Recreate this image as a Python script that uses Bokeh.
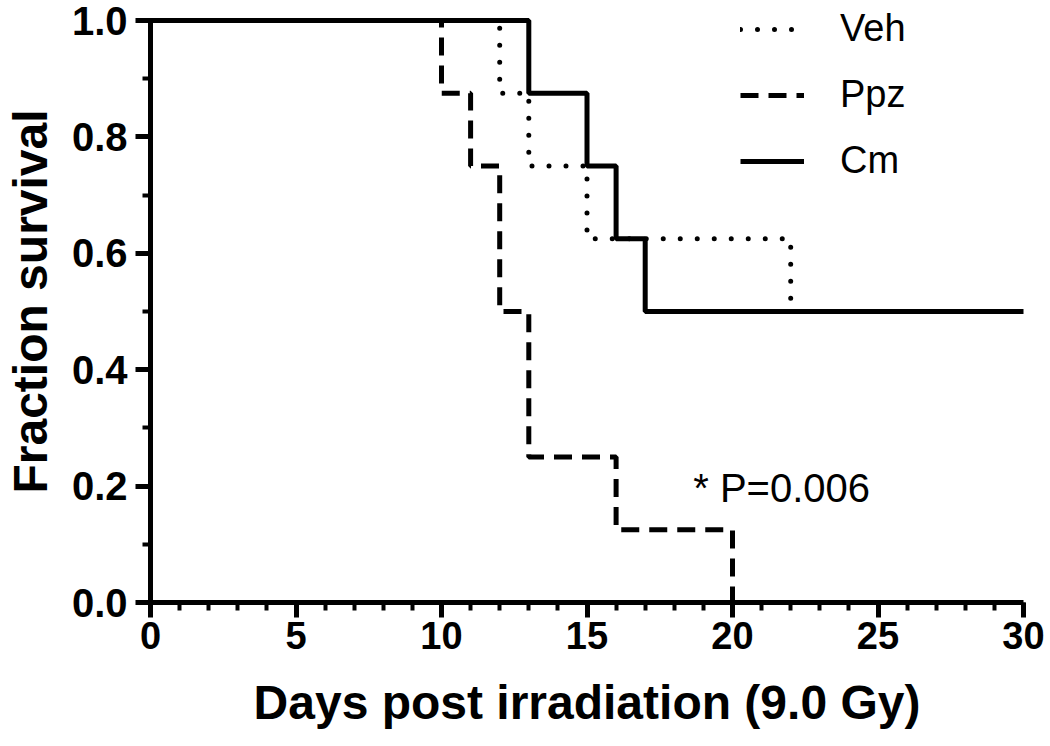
from bokeh.plotting import figure
from bokeh.models import Range1d, SingleIntervalTicker, Legend, LegendItem, Label, PrintfTickFormatter
from bokeh.embed import file_html
from bokeh.resources import INLINE

# Kaplan-Meier survival data (days, fraction surviving)
veh_days = [0, 12, 13, 15, 22, 30]
veh_surv = [1.0, 0.875, 0.75, 0.625, 0.5, 0.5]
ppz_days = [0, 10, 11, 12, 13, 16, 20]
ppz_surv = [1.0, 0.875, 0.75, 0.5, 0.25, 0.125, 0.0]
cm_days = [0, 13, 15, 16, 17, 30]
cm_surv = [1.0, 0.875, 0.75, 0.625, 0.5, 0.5]
series_names = ["Veh", "Ppz", "Cm"]
annotation = "* P=0.006"

FONT = "Liberation Sans"

# frame spans canvas rows 0..602; value 1.0 sits 20px below the frame top
y_top = 602.0 / 582.0

p = figure(width=1050, height=746, output_backend="svg", toolbar_location=None,
           x_range=Range1d(0, 30), y_range=Range1d(0, y_top),
           min_border_left=150, min_border_right=27, min_border_top=0, min_border_bottom=144)
p.outline_line_color = None
p.xgrid.visible = False
p.ygrid.visible = False
p.background_fill_color = "white"
p.border_fill_color = "white"

r_veh = p.step(veh_days, veh_surv, mode="after", line_color="black", line_width=5,
               line_dash="0 17", line_cap="round")
r_ppz = p.step(ppz_days, ppz_surv, mode="after", line_color="black", line_width=5,
               line_dash="18 10", line_cap="butt")
r_cm = p.step(cm_days, cm_surv, mode="after", line_color="black", line_width=5)

for r in (r_veh, r_ppz, r_cm):
    r.level = "overlay"

xa = p.xaxis[0]
xa.ticker = SingleIntervalTicker(interval=5, num_minor_ticks=5)
ya = p.yaxis[0]
ya.ticker = SingleIntervalTicker(interval=0.2, num_minor_ticks=2)
ya.formatter = PrintfTickFormatter(format="%.1f")
ya.bounds = (0, 1.0)

for ax in (xa, ya):
    ax.axis_line_width = 5
    ax.axis_line_color = "black"
    ax.major_tick_line_width = 5
    ax.minor_tick_line_width = 4
    ax.major_tick_out = 15
    ax.major_tick_in = 0
    ax.minor_tick_out = 8
    ax.minor_tick_in = 0
    ax.major_label_text_font = FONT
    ax.major_label_text_font_style = "bold"
    ax.major_label_text_color = "black"
    ax.axis_label_text_font = FONT
    ax.axis_label_text_font_style = "bold"
    ax.axis_label_text_color = "black"
    ax.axis_label_text_font_size = "48px"

xa.major_label_text_font_size = "38px"
ya.major_label_text_font_size = "40px"
xa.major_label_standoff = 4
ya.major_label_standoff = 8
xa.axis_label = "Days post irradiation (9.0 Gy)"
ya.axis_label = "Fraction survival"
xa.axis_label_standoff = 24
ya.axis_label_standoff = 12

legend = Legend(items=[LegendItem(label=series_names[0], renderers=[r_veh]),
                       LegendItem(label=series_names[1], renderers=[r_ppz]),
                       LegendItem(label=series_names[2], renderers=[r_cm])],
                location=(590, 420), orientation="vertical",
                glyph_width=64, glyph_height=36, label_height=36, spacing=23,
                label_standoff=36, padding=0, margin=0,
                border_line_color=None, background_fill_alpha=0,
                label_text_font=FONT, label_text_font_size="38px", label_text_color="black")
p.add_layout(legend, "center")

p.add_layout(Label(x=18.65, y=0.197, text=annotation, text_font=FONT, text_font_size="40px",
                   text_color="black", text_baseline="middle", text_align="left"))

open("out.html", "w").write(file_html(p, INLINE))
